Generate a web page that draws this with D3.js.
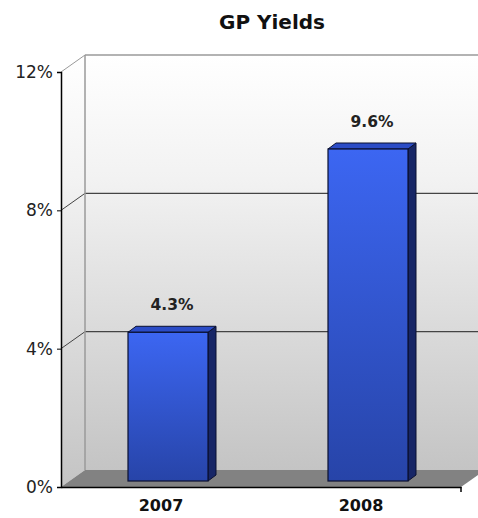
<!DOCTYPE html>
<html>
<head>
<meta charset="utf-8"/>
<style>
  body { margin: 0; background: #fff; }
  text { font-family: "DejaVu Sans", Verdana, sans-serif; }
</style>
</head>
<body>
<script src="https://d3js.org/d3.v7.min.js"></script>
<script type="text/javascript">
var width = 478, height = 518;

var categories = ["2007", "2008"];
var yields = [4.3, 9.6];
var tickValues = [0, 4, 8, 12];

// 3d depth of the chart box and of the bars
var depthX = 24, depthY = -17;
var barDX = 8, barDY = -6;

var svg = d3.select("body").append("svg")
            .attr("width", width)
            .attr("height", height);

var defs = svg.append("defs");
var wallGrad = defs.append("linearGradient").attr("id", "wall")
                   .attr("x1", 0).attr("y1", 0).attr("x2", 0).attr("y2", 1);
wallGrad.append("stop").attr("offset", "0%").attr("stop-color", "#ffffff");
wallGrad.append("stop").attr("offset", "30%").attr("stop-color", "#f2f2f2");
wallGrad.append("stop").attr("offset", "100%").attr("stop-color", "#c4c4c4");

var barGrad = defs.append("linearGradient").attr("id", "barFront")
                  .attr("x1", 0).attr("y1", 0).attr("x2", 0).attr("y2", 1);
barGrad.append("stop").attr("offset", "0%").attr("stop-color", "#3c66f2");
barGrad.append("stop").attr("offset", "100%").attr("stop-color", "#2744a8");

var x = d3.scaleBand().domain(categories).range([61, 461]);
var y = d3.scaleLinear().domain([0, 12]).range([487, 72]);

var xLeft = 61, xRight = 461, yBottom = y(0), yTop = y(12);

// back wall
svg.append("rect")
   .attr("x", xLeft + depthX).attr("y", yTop + depthY)
   .attr("width", width - xLeft - depthX + 10).attr("height", yBottom - yTop)
   .attr("fill", "url(#wall)");
// side wall
svg.append("path")
   .attr("d", "M" + xLeft + "," + yBottom + "L" + xLeft + "," + yTop +
              "L" + (xLeft + depthX) + "," + (yTop + depthY) +
              "L" + (xLeft + depthX) + "," + (yBottom + depthY) + "Z")
   .attr("fill", "url(#wall)");
// floor
svg.append("path")
   .attr("d", "M" + xLeft + "," + yBottom + "L" + xRight + "," + yBottom +
              "L" + (xRight + depthX) + "," + (yBottom + depthY) +
              "L" + (xLeft + depthX) + "," + (yBottom + depthY) + "Z")
   .attr("fill", "#828282");

// gridlines on the back wall and side wall
tickValues.slice(1).forEach(function(t) {
  var yy = y(t);
  var col = t === 12 ? "#9a9a9a" : "#444";
  svg.append("line")
     .attr("x1", xLeft + depthX).attr("x2", width)
     .attr("y1", yy + depthY).attr("y2", yy + depthY)
     .attr("stroke", col).attr("stroke-width", t === 12 ? 1.5 : 1.2);
  svg.append("line")
     .attr("x1", xLeft).attr("x2", xLeft + depthX)
     .attr("y1", yy).attr("y2", yy + depthY)
     .attr("stroke", col).attr("stroke-width", 1);
});
// back wall left edge
svg.append("line")
   .attr("x1", xLeft + depthX).attr("x2", xLeft + depthX)
   .attr("y1", yTop + depthY).attr("y2", yBottom + depthY)
   .attr("stroke", "#9a9a9a").attr("stroke-width", 1.5);

// bars
var bw = 80;
var bars = svg.selectAll("g.bar").data(categories).enter().append("g");
bars.each(function(c, i) {
  var g = d3.select(this);
  var x0 = x(c) + x.bandwidth() / 2 - bw / 2 + barDX - 1;
  var y0 = y(0) + barDY;
  var y1 = y(yields[i]) + barDY;
  // side
  g.append("path")
   .attr("d", "M" + (x0 + bw) + "," + y0 + "L" + (x0 + bw) + "," + y1 +
              "L" + (x0 + bw + barDX) + "," + (y1 + barDY) +
              "L" + (x0 + bw + barDX) + "," + (y0 + barDY) + "Z")
   .attr("fill", "#172666").attr("stroke", "#0a1030").attr("stroke-width", 1);
  // top
  g.append("path")
   .attr("d", "M" + x0 + "," + y1 + "L" + (x0 + bw) + "," + y1 +
              "L" + (x0 + bw + barDX) + "," + (y1 + barDY) +
              "L" + (x0 + barDX) + "," + (y1 + barDY) + "Z")
   .attr("fill", "#2b4cc6").attr("stroke", "#0a1030").attr("stroke-width", 1);
  // front
  g.append("rect")
   .attr("x", x0).attr("y", y1).attr("width", bw).attr("height", y0 - y1)
   .attr("fill", "url(#barFront)").attr("stroke", "#0a1030").attr("stroke-width", 1.2);
  // value label
  g.append("text")
   .attr("x", x0 + bw / 2 + barDX / 2).attr("y", y1 + barDY - 16)
   .attr("text-anchor", "middle")
   .attr("font-size", 15.5).attr("font-weight", "bold").attr("fill", "#222")
   .text(yields[i].toFixed(1) + "%");
});

// y axis
var yAxis = d3.axisLeft(y).tickValues(tickValues)
              .tickSize(4).tickFormat(function(d) { return d + "%"; });
var ya = svg.append("g").attr("transform", "translate(" + xLeft + ",0)").call(yAxis);
ya.select(".domain").attr("stroke", "#000").attr("stroke-width", 1.5);
ya.selectAll("text").attr("font-size", 17).attr("fill", "#222")
  .style("font-family", "'DejaVu Sans', sans-serif").attr("dx", -1);

// x axis
var xAxis = d3.axisBottom(x).tickSize(0).tickPadding(13);
var xa = svg.append("g").attr("transform", "translate(0," + yBottom + ")").call(xAxis);
xa.select(".domain").attr("stroke", "#000").attr("stroke-width", 1.5);
xa.selectAll("text").attr("font-size", 16).attr("font-weight", "bold").attr("fill", "#111")
  .style("font-family", "'DejaVu Sans', sans-serif");
xa.append("line").attr("x1", xRight).attr("x2", xRight).attr("y1", 0).attr("y2", 5)
  .attr("stroke", "#000").attr("stroke-width", 1.5);

// title
svg.append("text")
   .attr("x", 272).attr("y", 29).attr("text-anchor", "middle")
   .attr("font-size", 20).attr("font-weight", "bold").attr("fill", "#111")
   .text("GP Yields");
</script>
</body>
</html>
